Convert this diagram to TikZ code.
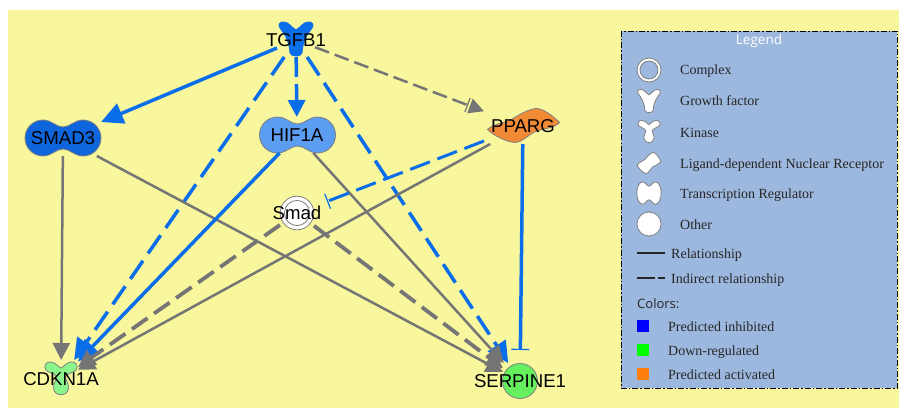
\documentclass[tikz,border=0pt]{standalone}
\usepackage{fontspec}
\setmainfont{Liberation Serif}
\newfontfamily\genefont{Liberation Sans}
\newfontfamily\legendfont{Open Sans}
\usetikzlibrary{arrows.meta}

\definecolor{paneyellow}{HTML}{F8F79E}
\definecolor{legendblue}{HTML}{9DB8DE}
\definecolor{edgeblue}{HTML}{0A6EEB}
\definecolor{edgegray}{HTML}{757575}
\definecolor{shapegray}{HTML}{808080}
\definecolor{smadblue}{HTML}{0F66DC}
\definecolor{hifblue}{HTML}{5B9DF0}
\definecolor{ppargorange}{HTML}{F08A35}
\definecolor{serpinegreen}{HTML}{66F05F}
\definecolor{cdkngreen}{HTML}{8BF58C}
\definecolor{keyorange}{HTML}{FF7F0E}

\tikzset{
  pics/complexring/.style = {code = {
    \path[draw=shapegray, fill=white, line width=0.8pt] (0,0) circle (12);
    \path[draw=shapegray, fill=#1, line width=0.8pt] (0,0) circle (9);
  }},
  pics/growthfactor/.style 2 args = {code = {
    \path[draw=#2, fill=#1, line width=0.8pt] (0,-9) .. controls (-4,-11) and (-8,-18) .. (-13,-17)
      .. controls (-17,-17) and (-18,-14) .. (-16,-11) .. controls (-12,-5) and (-7,0) .. (-6,14)
      .. controls (-5,18) and (5,18) .. (6,14) .. controls (7,0) and (12,-5) .. (16,-11)
      .. controls (18,-14) and (17,-17) .. (13,-17) .. controls (8,-18) and (4,-11) .. (0,-9) -- cycle;
  }},
  pics/kinase/.style = {code = {
    \path[draw=shapegray, fill=#1, line width=0.8pt] (0,-11) .. controls (-2,-11) and (-4,-16) .. (-10,-17)
      .. controls (-15,-17.5) and (-18,-13) .. (-15,-9) .. controls (-13,-6) and (-8,-7) .. (-5,-3)
      .. controls (-3,0) and (-8,3) .. (-7.5,9) .. controls (-7,18) and (7,18) .. (7.5,9)
      .. controls (8,3) and (3,0) .. (5,-3) .. controls (8,-7) and (13,-6) .. (15,-9)
      .. controls (18,-13) and (15,-17.5) .. (10,-17) .. controls (4,-16) and (2,-11) .. (0,-11) -- cycle;
  }},
  pics/nuclearreceptor/.style = {code = {
    \path[draw=shapegray, fill=#1, line width=0.8pt] (-36,4) .. controls (-30,-2) and (-20,-2) .. (-12,-6)
      .. controls (-6,-10) and (6,-17) .. (13,-17) .. controls (20,-17) and (30,-9) .. (36,-3)
      .. controls (30,3) and (20,3) .. (12,6) .. controls (4,10) and (-2,17) .. (-8,17)
      .. controls (-16,17) and (-30,10) .. (-36,4) -- cycle;
  }},
  pics/peanut/.style = {code = {
    \path[draw=shapegray, fill=#1, line width=0.8pt] (0,-11) .. controls (7,-11) and (11,-18) .. (20,-18)
      .. controls (30,-18) and (38,-10) .. (38,0) .. controls (38,10) and (30,18) .. (20,18)
      .. controls (11,18) and (7,11) .. (0,11) .. controls (-7,11) and (-11,18) .. (-20,18)
      .. controls (-30,18) and (-38,10) .. (-38,0) .. controls (-38,-10) and (-30,-18) .. (-20,-18)
      .. controls (-11,-18) and (-7,-11) .. (0,-11) -- cycle;
  }}
}

\begin{document}
\begin{tikzpicture}[x=1pt, y=-1pt]
\tikzset{GeneStyle/.style = {inner sep=0pt, outer sep=0pt},
  GeneText/.style = {inner sep=0pt, font=\genefont\fontsize{18.6}{20}\selectfont, text=black},
  LegendText/.style = {anchor=west, inner sep=0pt, text height=11pt, text depth=1pt, font=\fontsize{14}{16}\selectfont, text=black!85},
  BlueLine/.style = {draw=edgeblue, line width=3.5pt},
  GrayLine/.style = {draw=edgegray, line width=2.5pt},
  LongDash/.style = {dash pattern=on 22pt off 9pt},
  BlueHead/.style = {-{Triangle[length=21pt, width=21pt]}},
  GrayHead/.style = {-{Triangle[length=17pt, width=17pt]}}
}

    % Draw pane and legend box
    \useasboundingbox (0,0) rectangle (899,409);
    \fill[paneyellow] (8,10) rectangle (899,408);
    \draw[fill=legendblue, line width=0.9pt, dash pattern=on 6pt off 2pt on 1.5pt off 2pt] (621,31) rectangle (897,388);

    % Draw gene shapes
    \pic at (296,39) {growthfactor={edgeblue}{edgeblue}};
    \pic at (63,138) {peanut=smadblue};
    \pic at (297.5,135) {peanut=hifblue};
    \pic at (523.5,125.5) {nuclearreceptor=ppargorange};
    \pic[scale=1.4] at (297,213) {complexring=white};
    \pic at (61,379) {kinase=cdkngreen};
    \draw[draw=shapegray, fill=serpinegreen, line width=0.8pt] (520,381) circle (17.5);

    % Draw gene nodes
    \node[GeneStyle, minimum width=38pt, minimum height=34pt, label={[GeneText]center:TGFB1}] (tgfb1) at (296,40) {};
    \node[GeneStyle, minimum width=76pt, minimum height=36pt, label={[GeneText]center:SMAD3}] (smad3) at (63,138) {};
    \node[GeneStyle, minimum width=76pt, minimum height=36pt, label={[GeneText]center:HIF1A}] (hif1a) at (297,135) {};
    \node[GeneStyle, minimum width=78pt, minimum height=36pt, label={[GeneText]center:PPARG}] (pparg) at (523,126) {};
    \node[GeneStyle, minimum width=34pt, minimum height=34pt, label={[GeneText]center:Smad}] (smad) at (297,213) {};
    \node[GeneStyle, minimum width=34pt, minimum height=38pt, label={[GeneText]center:CDKN1A}] (cdkn1a) at (61,379) {};
    \node[GeneStyle, minimum width=34pt, minimum height=36pt, label={[GeneText]center:SERPINE1}] (serpine1) at (520,381) {};

    % Draw connectors
    \draw[BlueLine, -{Triangle[length=22pt, width=21pt]}] (tgfb1) -- (smad3);
    \draw[BlueLine, LongDash, BlueHead] (tgfb1) -- (cdkn1a);
    \draw[BlueLine, dash pattern=on 20pt off 7pt, GrayHead] (tgfb1) -- (hif1a);
    \draw[BlueLine, LongDash, BlueHead] (tgfb1) -- (serpine1);
    \draw[GrayLine, dash pattern=on 15pt off 6pt, -{Bar[width=15pt, line width=1.2pt, sep=2pt] Triangle[length=15pt, width=15pt]}] (tgfb1) -- (pparg);
    \draw[GrayLine, GrayHead] (smad3) -- (cdkn1a);
    \draw[GrayLine, GrayHead] (smad3) -- (serpine1);
    \draw[BlueLine, BlueHead] (hif1a) -- (cdkn1a);
    \draw[GrayLine, GrayHead] (hif1a) -- (serpine1);
    \draw[GrayLine, GrayHead] (pparg) -- (cdkn1a);
    \draw[BlueLine, line width=3pt, dash pattern=on 21pt off 8pt, -{Bar[width=16pt, line width=1.2pt]}, shorten >=14pt] (pparg) -- (smad);
    \draw[BlueLine, -{Bar[width=18pt, line width=1.2pt]}, shorten >=13pt] (pparg) -- (serpine1);
    \draw[GrayLine, line width=3.8pt, dash pattern=on 19pt off 8pt, GrayHead] (smad) -- (cdkn1a);
    \draw[GrayLine, line width=3.8pt, dash pattern=on 19pt off 8pt, GrayHead] (smad) -- (serpine1);

    % Draw legend
    \node[font=\legendfont\fontsize{13.5}{15}\selectfont, text=white, inner sep=0pt] (legendtitle) at (759,41) {Legend};
    \pic at (649,70) {complexring=legendblue};
    \pic[scale=0.68] at (649,101) {growthfactor={white}{shapegray}};
    \pic[scale=0.68] at (649,132) {kinase=white};
    \pic[xscale=0.33, yscale=0.62] at (649,163) {nuclearreceptor=white};
    \pic[xscale=0.32, yscale=0.62] at (649,193) {peanut=white};
    \draw[draw=shapegray, fill=white, line width=0.8pt] (649,224) circle (12);
    \node[LegendText] (complex) at (680,70) {Complex};
    \node[LegendText] (growth) at (680,101) {Growth factor};
    \node[LegendText] (kinase) at (680,132) {Kinase};
    \node[LegendText] (receptor) at (680,163) {Ligand-dependent Nuclear Receptor};
    \node[LegendText] (regulator) at (680,193) {Transcription Regulator};
    \node[LegendText] (other) at (680,224) {Other};

    \coordinate (solidstart) at (637,253);
    \coordinate (dashstart) at (637,278);
    \node[LegendText] (relation) at (671,253) {Relationship};
    \node[LegendText] (indirect) at (671,278) {Indirect relationship};
    \draw[black!85, line width=2pt, shorten >=6pt] (solidstart) -- (relation);
    \draw[black!85, line width=2pt, dash pattern=on 18pt off 3pt on 7pt off 9pt, shorten >=6pt] (dashstart) -- (indirect);

    \node[anchor=west, inner sep=0pt, font=\legendfont\fontsize{13}{15}\selectfont, text=black!85] (colors) at (637,304) {Colors:};
    \fill[blue] (637,320) rectangle (649,332);
    \fill[green] (637,344) rectangle (649,356);
    \fill[keyorange] (637,368) rectangle (649,380);
    \node[LegendText] (inhibited) at (668,326) {Predicted inhibited};
    \node[LegendText] (downreg) at (668,350) {Down-regulated};
    \node[LegendText] (activated) at (668,374) {Predicted activated};
\end{tikzpicture}
\end{document}
